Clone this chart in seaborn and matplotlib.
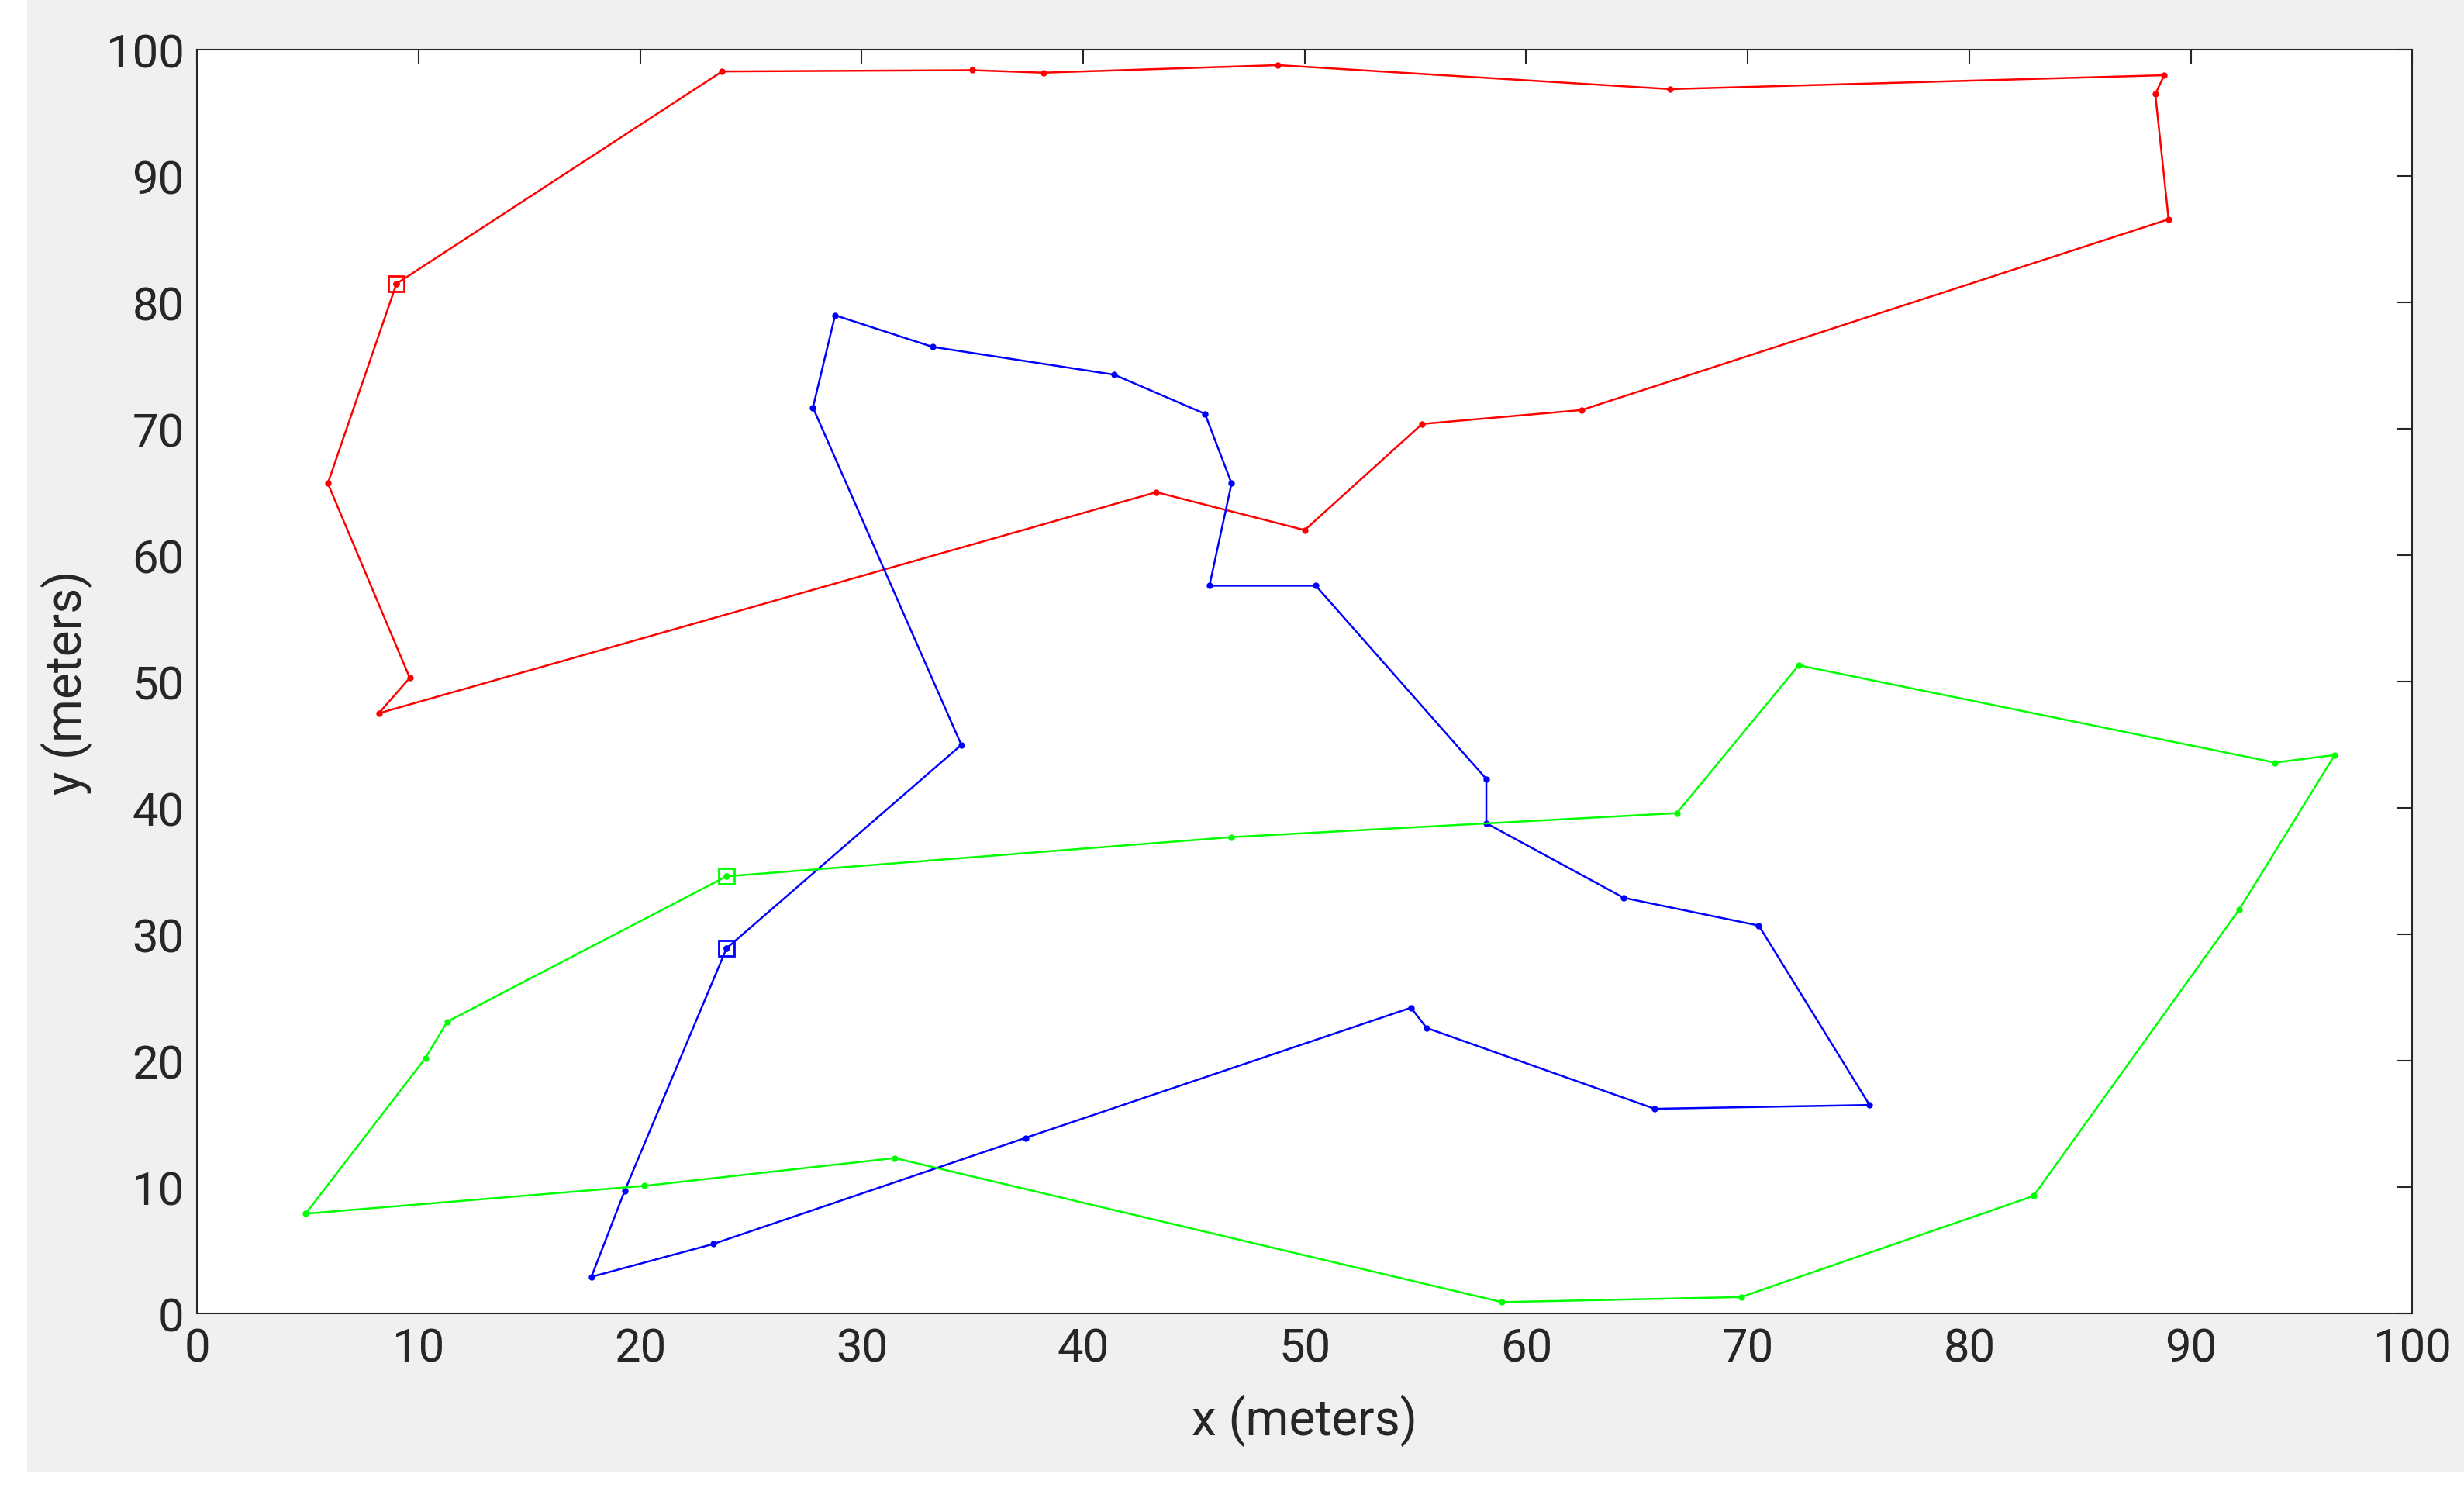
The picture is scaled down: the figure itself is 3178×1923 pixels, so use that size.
import numpy as np
import pandas as pd
import seaborn as sns
import matplotlib.pyplot as plt
from matplotlib.patches import Rectangle

# tour coordinates (first point = start, drawn as square)
red_x = [9.0, 23.7, 35.0, 38.2, 48.8, 66.5, 88.8, 88.4, 89.0, 62.5, 55.3, 50.0, 43.3, 8.2, 9.6, 5.9, 9.0]
red_y = [81.5, 98.3, 98.4, 98.2, 98.8, 96.9, 98.0, 96.5, 86.6, 71.5, 70.4, 62.0, 65.0, 47.5, 50.3, 65.7, 81.5]

blue_x = [23.9, 34.5, 27.8, 28.8, 33.2, 41.4, 45.5, 46.7, 45.7, 50.5, 58.2, 58.2, 64.4, 70.5, 75.5,
          65.8, 55.5, 54.8, 37.4, 23.3, 17.8, 19.3, 23.9]
blue_y = [28.9, 45.0, 71.7, 79.0, 76.5, 74.3, 71.2, 65.7, 57.6, 57.6, 42.3, 38.8, 32.9, 30.7, 16.5,
          16.2, 22.6, 24.2, 13.9, 5.5, 2.9, 9.7, 28.9]

green_x = [23.9, 46.7, 66.8, 72.3, 93.8, 96.5, 92.2, 82.9, 69.7, 58.9, 31.5, 20.2, 4.9, 10.3, 11.3, 23.9]
green_y = [34.6, 37.7, 39.6, 51.3, 43.6, 44.2, 32.0, 9.3, 1.3, 0.9, 12.3, 10.1, 7.9, 20.2, 23.1, 34.6]

tours = [(red_x, red_y, '#ff0000'), (blue_x, blue_y, '#0000ff'), (green_x, green_y, '#00ff00')]

sns.set_style('white')
plt.rcParams['font.family'] = ['Roboto', 'DejaVu Sans']

fig = plt.figure(figsize=(31.78, 19.24), dpi=100, facecolor='white')
fig.patches.append(Rectangle((0.011, 0.013), 0.989, 0.987, transform=fig.transFigure,
                             facecolor='#f0f0f0', edgecolor='none', zorder=-10))
ax = fig.add_axes([0.080, 0.119, 0.899, 0.847])
ax.set_facecolor('white')

for xs, ys, c in tours:
    df = pd.DataFrame({'x': xs, 'y': ys})
    sns.lineplot(data=df, x='x', y='y', sort=False, estimator=None, color=c,
                 linewidth=1.8, marker='o', markersize=6, markeredgewidth=0, ax=ax)
    ax.plot(xs[0], ys[0], marker='s', markersize=15, markerfacecolor='none',
            markeredgecolor=c, markeredgewidth=2)

ax.set_xlim(0, 100)
ax.set_ylim(0, 100)
ax.set_xticks(np.arange(0, 101, 10))
ax.set_yticks(np.arange(0, 101, 10))
ax.tick_params(direction='in', length=14, width=1.5, labelsize=43, colors='#262626',
               top=True, right=True, pad=12)
for s in ax.spines.values():
    s.set_color('#262626')
    s.set_linewidth(1.5)
ax.set_xlabel('x (meters)', fontsize=46, color='#262626', labelpad=22)
ax.set_ylabel('y (meters)', fontsize=46, color='#262626', labelpad=12)

fig.savefig('out.png', dpi=100)
